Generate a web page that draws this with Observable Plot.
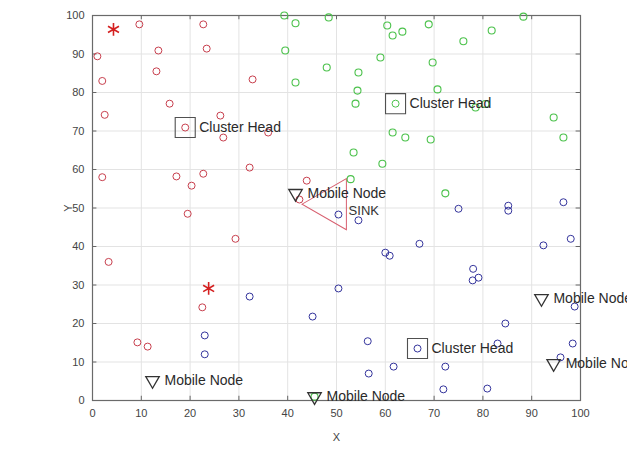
<!DOCTYPE html>
<html>
<head>
<meta charset="utf-8">
<script src="https://cdn.jsdelivr.net/npm/d3@7"></script>
<script src="https://cdn.jsdelivr.net/npm/@observablehq/plot@0.6"></script>
<style>
  html, body { margin: 0; padding: 0; background: #fff; }
  #chart { width: 627px; height: 450px; }
</style>
</head>
<body>
<div id="chart"></div>
<script>
// ---- data ----
const redX = [1, 2, 2.5, 2, 3.3, 9.2, 11.3, 9.6, 13.5, 13.1, 15.8, 22.7, 23.4, 26.2, 26.8, 36, 32.8, 17.2, 20.3, 22.7, 32.2, 19.5, 29.3, 22.5, 43.9, 42.4];
const redY = [89.4, 83, 74.2, 58, 36, 15.1, 14, 97.7, 90.9, 85.5, 77.1, 97.7, 91.4, 74, 68.3, 69.6, 83.4, 58.2, 55.8, 58.9, 60.5, 48.5, 42, 24.2, 57.1, 52.2];
const greenX = [39.3, 41.6, 48.4, 60.4, 61.5, 63.5, 68.9, 76, 39.5, 59, 69.7, 48, 54.5, 41.6, 54.3, 53.9, 70.7, 61.5, 64.1, 69.3, 53.5, 59.4, 72.3, 52.9, 88.3, 81.8, 78.5, 80.5, 94.5, 96.5, 45.5];
const greenY = [100, 98, 99.5, 97.4, 94.8, 95.8, 97.7, 93.3, 90.9, 89.1, 87.8, 86.5, 85.2, 82.6, 80.5, 77.1, 80.8, 69.6, 68.3, 67.8, 64.4, 61.5, 53.8, 57.5, 99.7, 96.1, 76.1, 77, 73.5, 68.3, 1];
const blueX = [50.4, 54.5, 60, 60.9, 67, 50.4, 45.1, 56.4, 61.7, 56.6, 72.3, 71.9, 75, 85.2, 85.2, 96.5, 92.4, 98, 78, 77.9, 79.1, 98.8, 84.6, 83, 98.4, 95.9, 80.9, 32.2, 23, 23];
const blueY = [48.3, 46.8, 38.4, 37.6, 40.7, 29.1, 21.8, 15.4, 8.8, 7, 8.8, 2.9, 49.8, 50.6, 49.3, 51.5, 40.3, 42, 34.2, 31.2, 31.9, 24.4, 20, 14.8, 14.8, 11.2, 3.1, 27, 16.9, 12];
const headX = [19, 62.1, 66.6];
const headY = [70.9, 77.1, 13.5];
const headColor = ["red", "green", "blue"];
const starX = [4.3, 23.8];
const starY = [96.4, 29.1];
const mobileX = [12.3, 45.5, 92, 94.5, 41.6];
const mobileY = [5.2, 1, 26.5, 9.6, 53.8];
const sinkX = [49];
const sinkY = [51];
const xTicks = [0, 10, 20, 30, 40, 50, 60, 70, 80, 90, 100];
const yTicks = [0, 10, 20, 30, 40, 50, 60, 70, 80, 90, 100];

// ---- build tables ----
const colors = {red: "#c8404e", green: "#4cc24c", blue: "#34349c"};
const pts = (xs, ys) => xs.map((x, i) => ({x, y: ys[i]}));
const red = pts(redX, redY);
const green = pts(greenX, greenY);
const blue = pts(blueX, blueY);
const heads = headX.map((x, i) => ({x, y: headY[i], c: colors[headColor[i]]}));
const stars = pts(starX, starY);
const mobiles = pts(mobileX, mobileY);
const sink = pts(sinkX, sinkY);

const chart = Plot.plot({
  width: 627,
  height: 450,
  marginLeft: 92,
  marginRight: 47,
  marginTop: 15,
  marginBottom: 50,
  style: {fontFamily: "Liberation Sans, Arial, sans-serif", fontSize: "11px", background: "#fff", color: "#333"},
  x: {domain: [0, 100]},
  y: {domain: [0, 100]},
  marks: [
    Plot.gridX(xTicks, {stroke: "#e3e3e3", strokeOpacity: 1}),
    Plot.gridY(yTicks, {stroke: "#e3e3e3", strokeOpacity: 1}),
    Plot.ruleX(xTicks, {x: d => d, y1: 0, y2: 1.1, stroke: "#666"}),
    Plot.ruleX(xTicks, {x: d => d, y1: 98.9, y2: 100, stroke: "#666"}),
    Plot.ruleY(yTicks, {y: d => d, x1: 0, x2: 0.9, stroke: "#666"}),
    Plot.ruleY(yTicks, {y: d => d, x1: 99.1, x2: 100, stroke: "#666"}),
    Plot.frame({stroke: "#6a6a6a", strokeWidth: 1.2}),
    Plot.axisX(xTicks, {tickSize: 0, tickPadding: 9, fill: "#444", fontSize: 11, label: "X", labelAnchor: "center", labelOffset: 40, labelArrow: "none"}),
    Plot.axisY(yTicks, {tickSize: 0, tickPadding: 8, fill: "#444", fontSize: 11, label: "Y", labelAnchor: "center", labelOffset: 28, labelArrow: "none"}),
    Plot.dot(sink, {x: "x", y: "y", symbol: "triangle", r: 19, rotate: 150, stroke: "#d86070", strokeWidth: 1, fill: "none"}),
    Plot.text(sink, {x: "x", y: "y", text: () => "SINK", dx: 17, dy: 7, textAnchor: "start", fontSize: 13, fill: "#333"}),
    Plot.dot(red, {x: "x", y: "y", r: 3.5, stroke: colors.red, strokeWidth: 1}),
    Plot.dot(green, {x: "x", y: "y", r: 3.5, stroke: colors.green, strokeWidth: 1.1}),
    Plot.dot(blue, {x: "x", y: "y", r: 3.5, stroke: colors.blue, strokeWidth: 1}),
    Plot.dot(heads, {x: "x", y: "y", r: 3.5, stroke: "c", strokeWidth: 1}),
    Plot.dot(heads, {x: "x", y: "y", symbol: "square", r: 11.3, stroke: "#505050", strokeWidth: 1.1, fill: "none"}),
    Plot.text(heads, {x: "x", y: "y", text: () => "Cluster Head", dx: 14, textAnchor: "start", fontSize: 14, fill: "#2a2a2a"}),
    Plot.dot(stars, {x: "x", y: "y", symbol: "asterisk", r: 6, stroke: "#d42020", strokeWidth: 1.6}),
    Plot.dot(mobiles, {x: "x", y: "y", symbol: "triangle", r: 5, rotate: 180, stroke: "#333", strokeWidth: 1.3, fill: "none"}),
    Plot.text(mobiles, {x: "x", y: "y", text: () => "Mobile Node", dx: 12, textAnchor: "start", fontSize: 14, fill: "#2a2a2a"})
  ]
});
document.getElementById("chart").appendChild(chart);
</script>
</body>
</html>
